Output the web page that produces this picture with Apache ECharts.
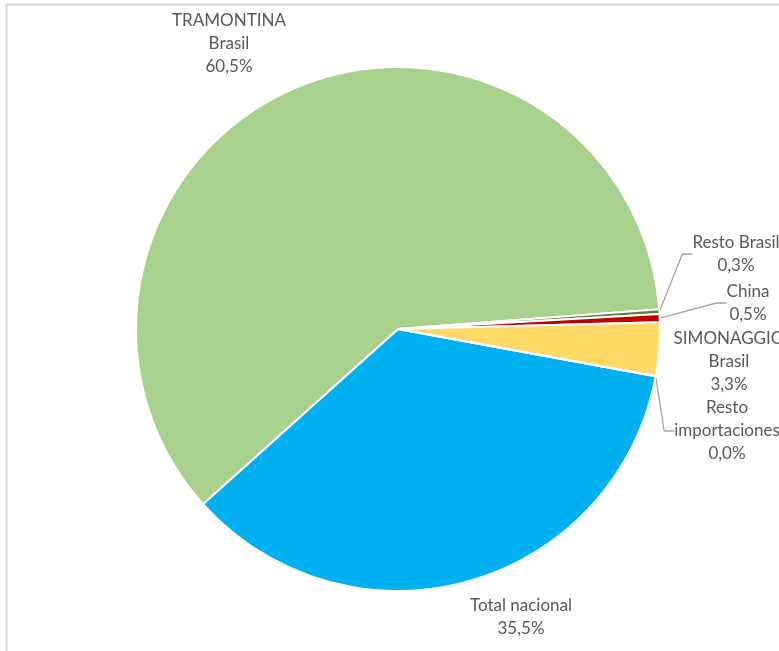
<!DOCTYPE html>
<html>
<head>
<meta charset="utf-8">
<script src="https://cdn.jsdelivr.net/npm/echarts@6/dist/echarts.min.js"></script>
<style>
html,body{margin:0;padding:0;background:#fff;}
#chart{width:779px;height:651px;}
</style>
</head>
<body>
<div id="chart"></div>
<script>
// Data (clockwise order)
const categories = ["Total nacional", "TRAMONTINA\nBrasil", "Resto Brasil", "China", "SIMONAGGIO\nBrasil", "Resto\nimportaciones"];
const shares = [35.5, 60.5, 0.3, 0.5, 3.3, 0.0];
const colors = ["#00b0f0", "#a9d18e", "#548235", "#c00000", "#ffd966", "#a5a5a5"];

// label placement (layout only)
const labelPos = [
  [521, 617], [229, 44], [736, 254], [748, 303], [729, 362], [727, 431]
];
const showLine = [false, false, true, true, false, true];

const chart = echarts.init(document.getElementById('chart'), null, {renderer: 'canvas'});
const fontFamily = 'Lato, "Liberation Sans", sans-serif';

chart.setOption({
  animation: false,
  backgroundColor: '#ffffff',
  graphic: [{
    type: 'rect',
    shape: {x: 6.5, y: 4.5, width: 1000, height: 1000},
    style: {fill: 'none', stroke: '#d9d9d9', lineWidth: 2},
    silent: true, z: -1
  }],
  series: [{
    type: 'pie',
    center: [398, 329],
    radius: 262,
    startAngle: 349.6,
    clockwise: true,
    avoidLabelOverlap: false,
    itemStyle: {borderColor: '#ffffff', borderWidth: 2},
    label: {
      show: true,
      color: '#595959',
      fontFamily: fontFamily,
      fontSize: 17,
      lineHeight: 23,
      align: 'center',
      formatter: p => p.name + '\n' + p.value.toFixed(1).replace('.', ',') + '%'
    },
    labelLine: {show: true, length: 10, length2: 10, lineStyle: {color: '#a6a6a6', width: 1.3}},
    labelLayout: function (params) {
      const pos = labelPos[params.dataIndex];
      return {x: pos[0], y: pos[1], align: 'center', verticalAlign: 'middle', hideOverlap: false, moveOverlap: null};
    },
    data: categories.map((c, i) => ({
      name: c,
      value: shares[i],
      itemStyle: {color: colors[i]},
      labelLine: {show: showLine[i]}
    }))
  }]
});
</script>
</body>
</html>
